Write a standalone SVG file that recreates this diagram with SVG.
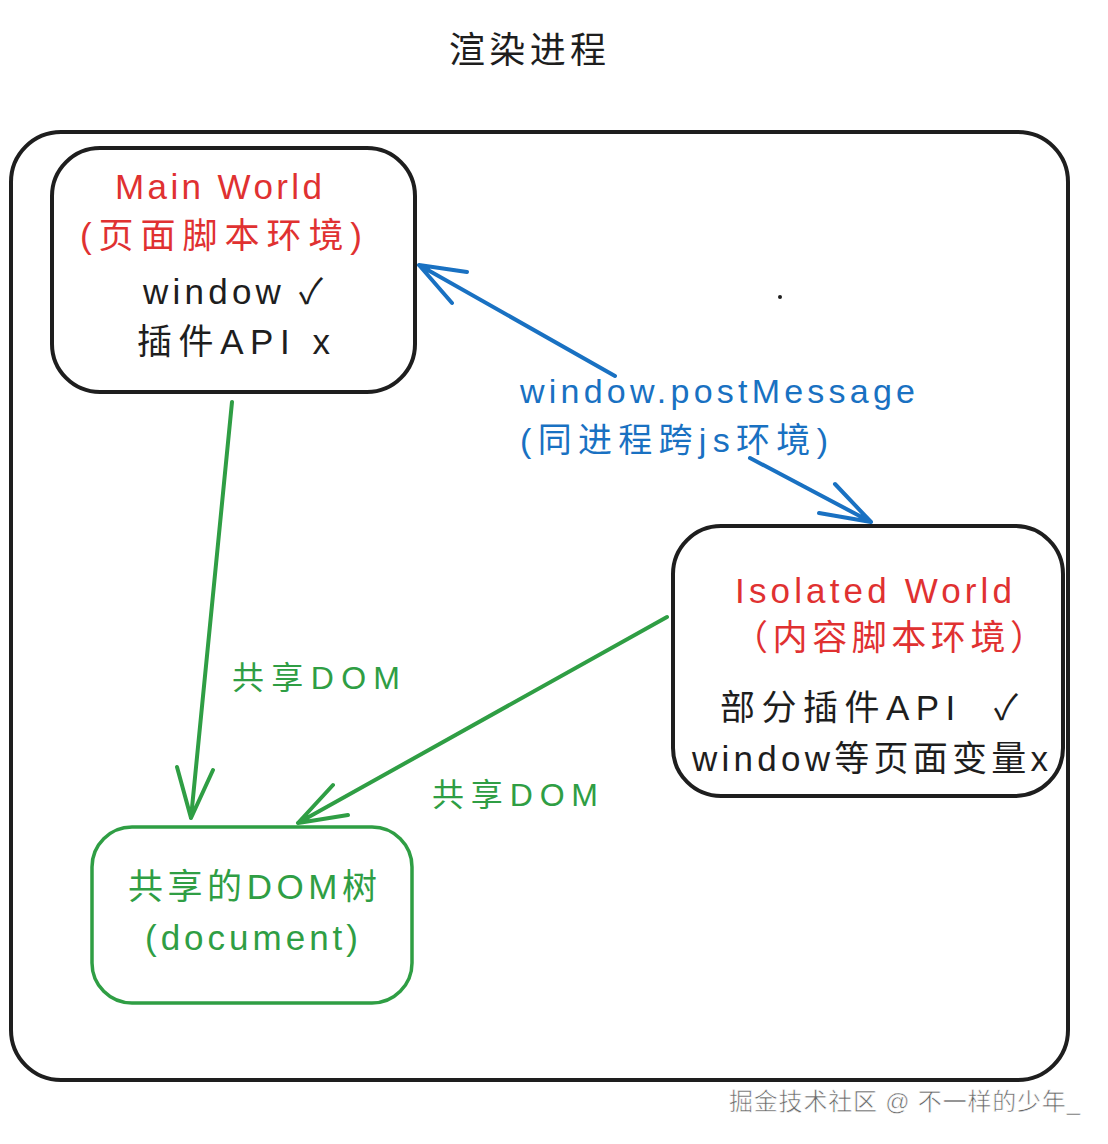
<svg xmlns="http://www.w3.org/2000/svg" width="1108" height="1144" viewBox="0 0 1108 1144">
<defs>
<style>
text{font-family:"Liberation Sans","Noto Sans CJK SC",sans-serif;}
.box{fill:none;stroke:#1e1e1e;stroke-width:4;stroke-linecap:round}
.gbox{fill:none;stroke:#2f9e44;stroke-width:3.5}
.red{fill:#e03131;font-size:35px}
.blk{fill:#1e1e1e;font-size:35px}
.blue{fill:#1971c2;font-size:34px}
.green{fill:#2f9e44;font-size:32px}
.gtxt{fill:#2f9e44;font-size:35px}
.barr{fill:none;stroke:#1971c2;stroke-width:4;stroke-linecap:round;stroke-linejoin:round}
.garr{fill:none;stroke:#2f9e44;stroke-width:4;stroke-linecap:round;stroke-linejoin:round}
</style>
</defs>
<rect width="1108" height="1144" fill="#ffffff"/>
<text x="449" y="63" font-size="36" textLength="157" fill="#1e1e1e">渲染进程</text>
<g id="outer">
<rect class="box" x="11" y="132" width="1057" height="948" rx="50"/>
</g>
<g id="main-world">
<rect class="box" x="52" y="148" width="363" height="244" rx="48"/>
<text class="red" x="115" y="199" textLength="207">Main World</text>
<text class="red" x="80" y="248" textLength="282">(页面脚本环境)</text>
<text class="blk" x="143" y="304" textLength="180">window ✓</text>
<text class="blk" x="137" y="354" textLength="193">插件API x</text>
</g>
<g id="isolated-world">
<rect class="box" x="673" y="526" width="390" height="270" rx="48"/>
<text class="red" x="735" y="603" textLength="277">Isolated World</text>
<text class="red" x="733" y="650" textLength="312">（内容脚本环境）</text>
<text class="blk" x="720" y="720" textLength="298" xml:space="preserve">部分插件API  ✓</text>
<text class="blk" x="692" y="771" textLength="356">window等页面变量x</text>
</g>
<g id="shared-dom">
<rect class="gbox" x="92" y="827" width="320" height="176" rx="40"/>
<text class="gtxt" x="128" y="899" textLength="249">共享的DOM树</text>
<text class="gtxt" x="145" y="950" textLength="213">(document)</text>
</g>
<g id="connectors">
<path class="barr" d="M615,376 L419,265 M419,265 L467,272 M419,265 L452,303"/>
<path class="barr" d="M750,458 L871,522 M871,522 L835,484 M871,522 L819,513"/>
<path class="garr" d="M232,402 L191,818 M191,818 L177,767 M191,818 L213,770"/>
<path class="garr" d="M667,617 L298,823 M298,823 L333,785 M298,823 L348,815"/>
<text class="blue" x="520" y="403" textLength="395">window.postMessage</text>
<text class="blue" x="520" y="452" textLength="308">(同进程跨js环境)</text>
<text class="green" x="232" y="689" textLength="168">共享DOM</text>
<text class="green" x="432" y="806" textLength="166">共享DOM</text>
</g>
<circle cx="780" cy="297" r="2" fill="#1e1e1e"/>
<text x="729" y="1110" font-size="24" textLength="351" fill="#666" stroke="#fff" stroke-width="0.6">掘金技术社区 @ 不一样的少年_</text>
</svg>
